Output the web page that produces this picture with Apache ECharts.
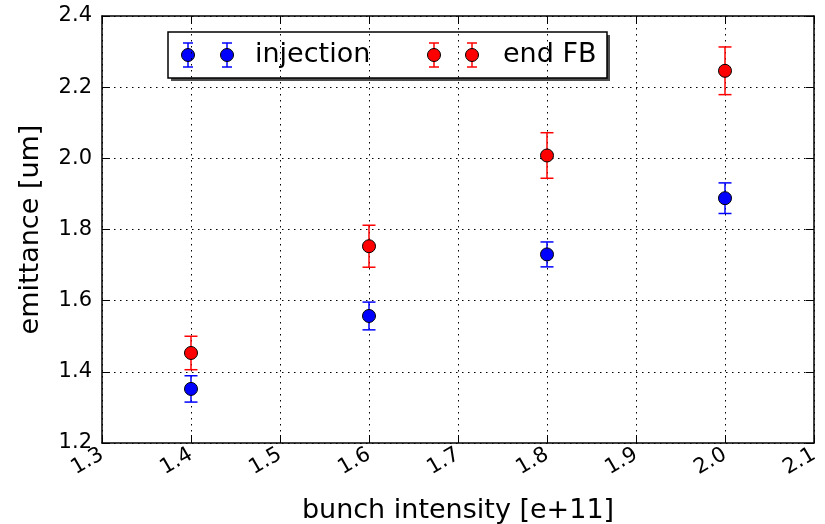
<!DOCTYPE html>
<html>
<head>
<meta charset="utf-8">
<script src="https://cdn.jsdelivr.net/npm/echarts@6/dist/echarts.min.js"></script>
<style>html,body{margin:0;padding:0;background:#fff}#c{width:825px;height:524px}</style>
</head>
<body>
<div id="c"></div>
<script>
// Data
var intensities = [1.4, 1.6, 1.8, 2.0];
var injectionValues = [1.352, 1.557, 1.730, 1.888];
var injectionErrors = [0.037, 0.039, 0.035, 0.043];
var endFBValues = [1.453, 1.753, 2.008, 2.246];
var endFBErrors = [0.047, 0.059, 0.064, 0.067];
var xTicks = [1.3, 1.4, 1.5, 1.6, 1.7, 1.8, 1.9, 2.0, 2.1];
var yTicks = [1.2, 1.4, 1.6, 1.8, 2.0, 2.2, 2.4];

var FONT = 'DejaVu Sans';
var BLUE = '#0000ff', RED = '#ff0000';

function pts(vals) { return intensities.map(function (x, i) { return [x, vals[i]]; }); }
function errs(vals, e) { return intensities.map(function (x, i) { return [x, vals[i] - e[i], vals[i] + e[i]]; }); }

function errRender(color) {
  return function (params, api) {
    var x = api.value(0);
    var lo = api.coord([x, api.value(1)]);
    var hi = api.coord([x, api.value(2)]);
    var hw = 6.5;
    var st = { stroke: color, lineWidth: 1.5 };
    return {
      type: 'group',
      children: [
        { type: 'line', shape: { x1: lo[0], y1: lo[1], x2: hi[0], y2: hi[1] }, style: st },
        { type: 'line', shape: { x1: lo[0] - hw, y1: lo[1], x2: lo[0] + hw, y2: lo[1] }, style: st },
        { type: 'line', shape: { x1: hi[0] - hw, y1: hi[1], x2: hi[0] + hw, y2: hi[1] }, style: st }
      ]
    };
  };
}

function legendMarker(cx, cy, color) {
  var st = { stroke: color, lineWidth: 1.5 };
  return [
    { type: 'line', shape: { x1: cx, y1: cy - 12, x2: cx, y2: cy + 12 }, style: st },
    { type: 'line', shape: { x1: cx - 5, y1: cy - 12, x2: cx + 5, y2: cy - 12 }, style: st },
    { type: 'line', shape: { x1: cx - 5, y1: cy + 12, x2: cx + 5, y2: cy + 12 }, style: st },
    { type: 'circle', shape: { cx: cx, cy: cy, r: 6.5 }, style: { fill: color, stroke: '#000', lineWidth: 1 } }
  ];
}

var legendChildren = [
  { type: 'rect', shape: { x: 171, y: 35, width: 439, height: 46 }, style: { fill: '#4d4d4d' } },
  { type: 'rect', shape: { x: 168, y: 32, width: 439, height: 46 },
    style: { fill: '#fff', stroke: '#000', lineWidth: 1.5 } }
].concat(legendMarker(188, 55, BLUE), legendMarker(227, 55, BLUE), legendMarker(434, 55, RED), legendMarker(472, 55, RED), [
  { type: 'text', x: 255, y: 55, style: { text: 'injection', font: '27px "DejaVu Sans"', fill: '#000', textVerticalAlign: 'middle', verticalAlign: 'middle' } },
  { type: 'text', x: 503, y: 55, style: { text: 'end FB', font: '27px "DejaVu Sans"', fill: '#000', textVerticalAlign: 'middle', verticalAlign: 'middle' } }
]);

var gridLine = { show: true, lineStyle: { color: '#000', width: 1, type: [1.5, 4.5] } };

var chart = echarts.init(document.getElementById('c'), null, { renderer: 'canvas' });
chart.setOption({
  backgroundColor: '#fff',
  animation: false,
  textStyle: { fontFamily: FONT },
  grid: { left: 102, right: 11, top: 16, bottom: 81, containLabel: false, outerBoundsMode: 'none' },
  xAxis: [{
    type: 'value', min: xTicks[0], max: xTicks[xTicks.length - 1], interval: 0.1,
    name: 'bunch intensity [e+11]', nameLocation: 'middle', nameGap: 54,
    nameTextStyle: { fontSize: 27, color: '#000', fontFamily: FONT },
    axisLine: { show: true, onZero: false, lineStyle: { color: '#000', width: 1.5 } },
    axisTick: { show: true, inside: true, length: 8, lineStyle: { color: '#000', width: 1 } },
    axisLabel: { color: '#000', fontSize: 21, fontFamily: FONT, rotate: 30, margin: 10,
      formatter: function (v) { return v.toFixed(1); } },
    splitLine: gridLine
  }, {
    type: 'value', position: 'top', min: xTicks[0], max: xTicks[xTicks.length - 1], interval: 0.1,
    axisLine: { show: true, onZero: false, lineStyle: { color: '#000', width: 1.5 } },
    axisTick: { show: true, inside: true, length: 8, lineStyle: { color: '#000', width: 1 } },
    axisLabel: { show: false }, splitLine: { show: false }
  }],
  yAxis: [{
    type: 'value', min: yTicks[0], max: yTicks[yTicks.length - 1], interval: 0.2,
    name: 'emittance [um]', nameLocation: 'middle', nameGap: 58, nameRotate: 90,
    nameTextStyle: { fontSize: 27, color: '#000', fontFamily: FONT },
    axisLine: { show: true, onZero: false, lineStyle: { color: '#000', width: 1.5 } },
    axisTick: { show: true, inside: true, length: 8, lineStyle: { color: '#000', width: 1 } },
    axisLabel: { color: '#000', fontSize: 21, fontFamily: FONT, margin: 10,
      formatter: function (v) { return v.toFixed(1); } },
    splitLine: gridLine
  }, {
    type: 'value', position: 'right', min: yTicks[0], max: yTicks[yTicks.length - 1], interval: 0.2,
    axisLine: { show: true, onZero: false, lineStyle: { color: '#000', width: 1.5 } },
    axisTick: { show: true, inside: true, length: 8, lineStyle: { color: '#000', width: 1 } },
    axisLabel: { show: false }, splitLine: { show: false }
  }],
  series: [
    { type: 'custom', name: 'injection err', renderItem: errRender(BLUE), data: errs(injectionValues, injectionErrors), z: 3, encode: { x: 0, y: [1, 2] } },
    { type: 'custom', name: 'end FB err', renderItem: errRender(RED), data: errs(endFBValues, endFBErrors), z: 3, encode: { x: 0, y: [1, 2] } },
    { type: 'scatter', name: 'injection', data: pts(injectionValues), symbolSize: 13, z: 4,
      itemStyle: { color: BLUE, borderColor: '#000', borderWidth: 1, opacity: 1 } },
    { type: 'scatter', name: 'end FB', data: pts(endFBValues), symbolSize: 13, z: 4,
      itemStyle: { color: RED, borderColor: '#000', borderWidth: 1, opacity: 1 } }
  ],
  graphic: [{ type: 'group', z: 100, children: legendChildren }]
});
</script>
</body>
</html>
